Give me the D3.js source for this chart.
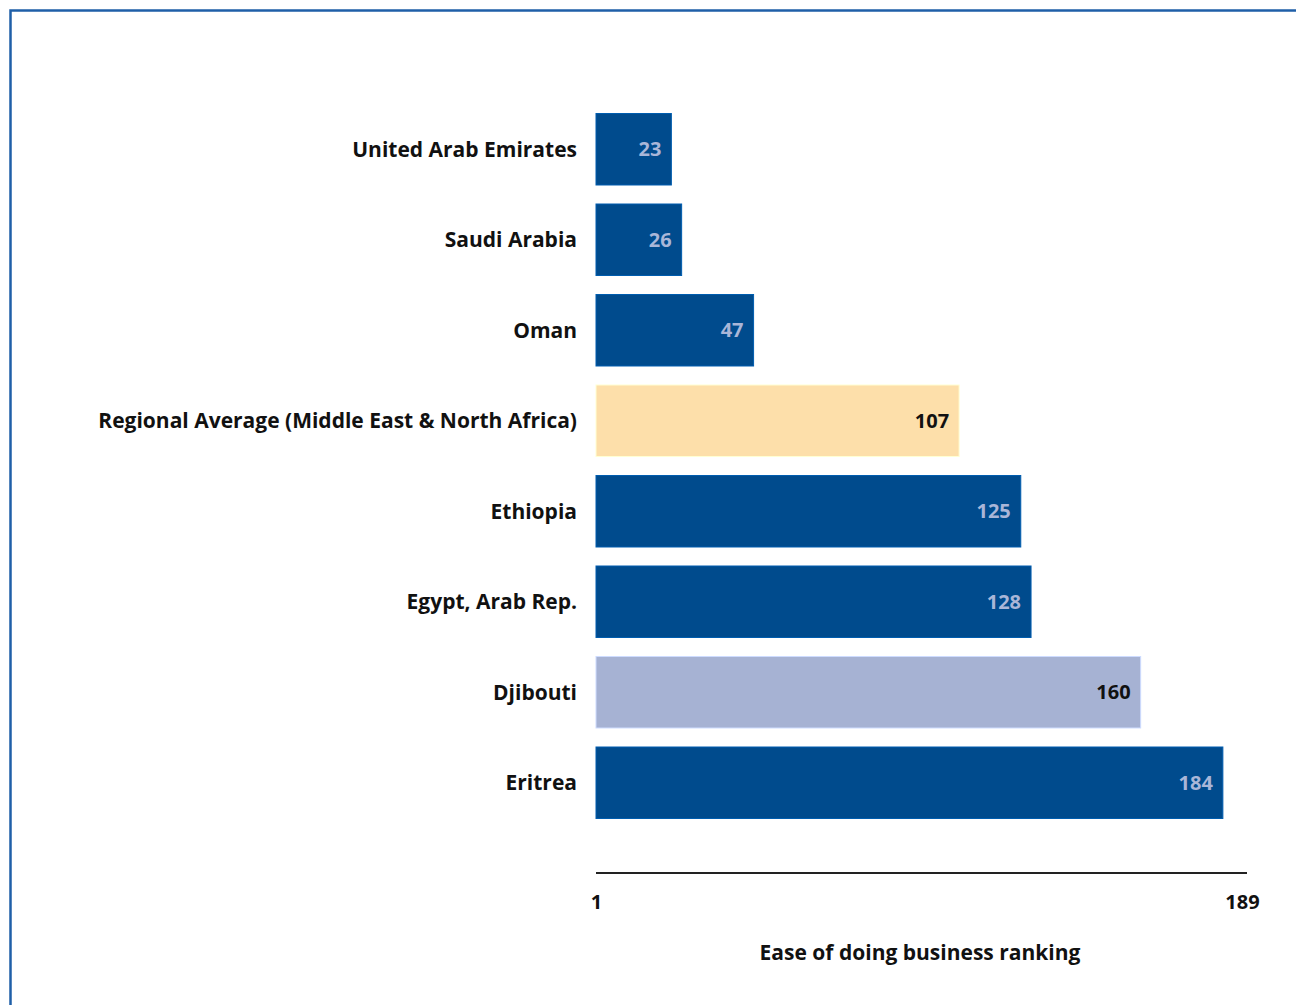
<!DOCTYPE html>
<html><head><meta charset="utf-8">
<script src="https://cdn.jsdelivr.net/npm/d3@7"></script>
<style>body{margin:0;background:#fff;} svg{display:block;}</style>
</head><body>
<script>
const categories = ["United Arab Emirates","Saudi Arabia","Oman","Regional Average (Middle East & North Africa)","Ethiopia","Egypt, Arab Rep.","Djibouti","Eritrea"];
const rankings = [23,26,47,107,125,128,160,184];
const barTypes = ["country","country","country","average","country","country","focus","country"];
const tickValues = [1,189];
const axisTitle = "Ease of doing business ranking";

const W=1296,H=1005;
const fillFor = {country:"#004b8d", average:"#fddfaa", focus:"#a6b2d3"};
const textFor = {country:"#a9b6d8", average:"#111", focus:"#111"};
const font = "'Open Sans', sans-serif";

const svg = d3.select("body").append("svg").attr("width",W).attr("height",H);
// frame
svg.append("path").attr("d","M10.5,1005 V10.5 H1296").attr("fill","none").attr("stroke","#1f5fa8").attr("stroke-width",2.5);

const x = d3.scaleLinear().domain([1,189]).range([596,1240]);
const y = d3.scaleBand().domain(categories).range([104,828]).paddingInner(0.21).paddingOuter(0.105);

const g = svg.append("g");
g.selectAll("rect").data(categories).join("rect")
 .attr("x",x(1)).attr("y",d=>y(d)).attr("height",y.bandwidth())
 .attr("width",(d,i)=>x(rankings[i])-x(1))
 .attr("fill",(d,i)=>fillFor[barTypes[i]])
 .attr("stroke",(d,i)=>d3.color(fillFor[barTypes[i]]).brighter(0.6)).attr("stroke-width",1);

g.selectAll("text.val").data(categories).join("text").attr("class","val")
 .attr("x",(d,i)=>x(rankings[i])-10).attr("y",d=>y(d)+y.bandwidth()/2)
 .attr("dy","0.35em").attr("text-anchor","end")
 .attr("font-family",font).attr("font-weight",700).attr("font-size",20)
 .attr("fill",(d,i)=>textFor[barTypes[i]]).text((d,i)=>rankings[i]);

g.selectAll("text.cat").data(categories).join("text").attr("class","cat")
 .attr("x",577).attr("y",d=>y(d)+y.bandwidth()/2)
 .attr("dy","0.35em").attr("text-anchor","end")
 .attr("font-family",font).attr("font-weight",700).attr("font-size",21)
 .attr("fill","#111").text(d=>d);

// axis
const ax = svg.append("g").attr("transform","translate(0,873)")
 .call(d3.axisBottom(x).tickValues(tickValues).tickSize(0).tickPadding(22).tickFormat(d3.format("d")));
ax.select(".domain").attr("d","M596,0H1247").attr("stroke","#222").attr("stroke-width",2);
ax.selectAll(".tick text").attr("font-family",font).attr("font-weight",700).attr("font-size",20).attr("fill","#111");
ax.selectAll(".tick").filter(d=>d===189).select("text").attr("dx",2);

svg.append("text").attr("x",920).attr("y",960).attr("text-anchor","middle")
 .attr("font-family",font).attr("font-weight",700).attr("font-size",21).attr("fill","#111").text(axisTitle);
</script>
</body></html>
